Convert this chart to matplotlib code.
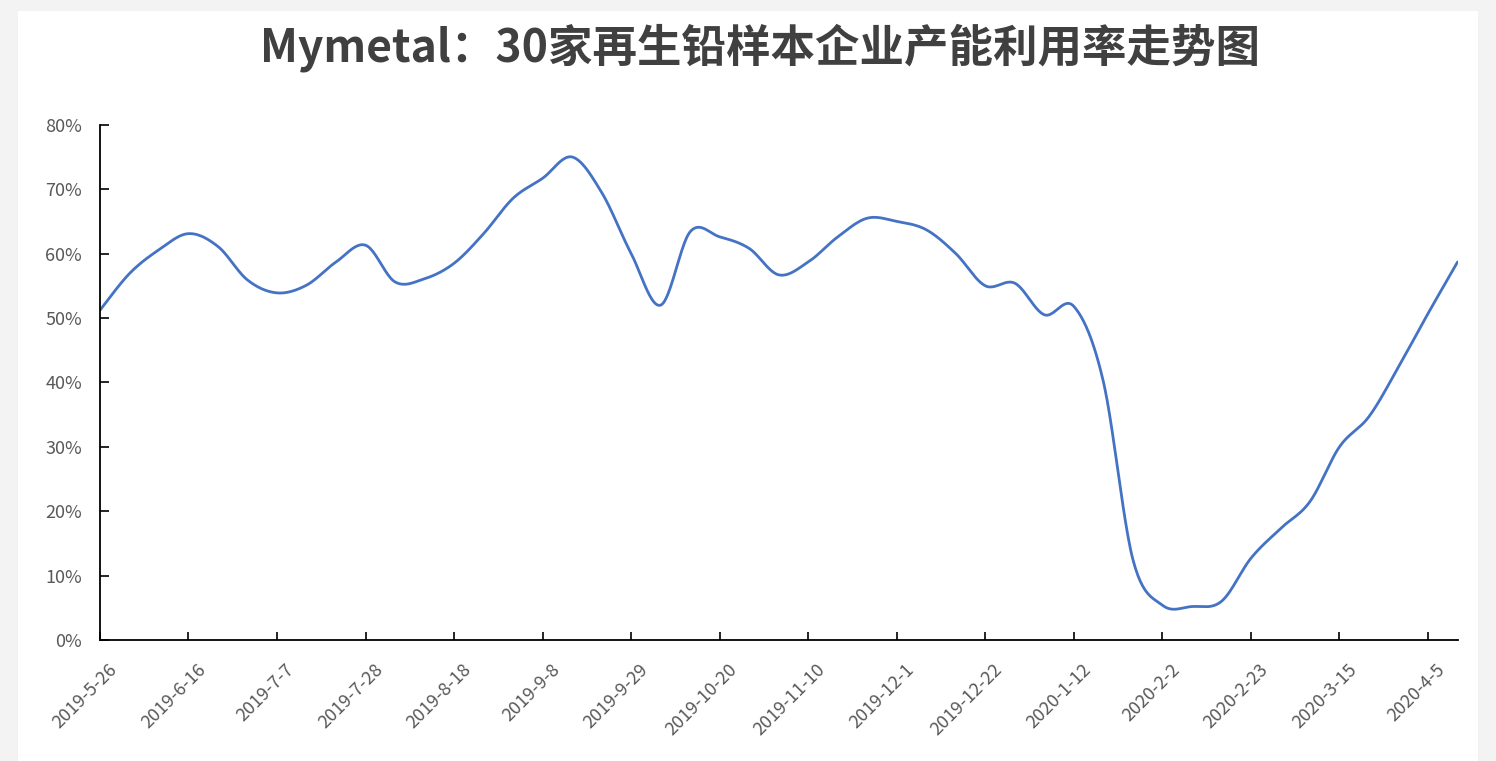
import numpy as np
import matplotlib
matplotlib.use("Agg")
import matplotlib.pyplot as plt
import matplotlib.transforms as mtransforms
from matplotlib.ticker import PercentFormatter

plt.rcParams['font.family'] = ['Noto Sans CJK SC', 'DejaVu Sans']

# 周度数据：2019-5-26 ~ 2020-4-12
titulo = "Mymetal：30家再生铅样本企业产能利用率走势图"
taxa_utilizacao = [
    51.2, 56.9, 60.6, 63.1, 61.1, 55.9, 53.9, 55.1, 58.7, 61.3,
    55.6, 56.1, 58.5, 63.1, 68.6, 71.7, 75.0, 69.5, 60.0, 52.0,
    63.4, 62.6, 60.8, 56.7, 58.7, 62.6, 65.5, 65.0, 63.7, 60.0,
    55.0, 55.4, 50.5, 51.8, 40.1, 12.5, 5.4, 5.2, 6.0, 12.7,
    17.3, 21.5, 30.0, 34.7, 42.4, 50.7, 58.7,
]
rotulos_x = [
    "2019-5-26", "2019-6-16", "2019-7-7", "2019-7-28", "2019-8-18",
    "2019-9-8", "2019-9-29", "2019-10-20", "2019-11-10", "2019-12-1",
    "2019-12-22", "2020-1-12", "2020-2-2", "2020-2-23", "2020-3-15",
    "2020-4-5",
]
passo_rotulo = 3  # um rótulo a cada 3 semanas


# Curva suavizada estilo Excel (Bezier com tangentes de Catmull-Rom)
def suavizar(x, y, n=24):
    x = np.asarray(x, float)
    y = np.asarray(y, float)
    xs, ys = [], []
    for i in range(len(x) - 1):
        i0 = max(i - 1, 0)
        i3 = min(i + 2, len(x) - 1)
        c1x = x[i] + (x[i + 1] - x[i0]) / 6
        c1y = y[i] + (y[i + 1] - y[i0]) / 6
        c2x = x[i + 1] - (x[i3] - x[i]) / 6
        c2y = y[i + 1] - (y[i3] - y[i]) / 6
        t = np.linspace(0, 1, n, endpoint=False)
        a, b, c, d = (1 - t) ** 3, 3 * t * (1 - t) ** 2, 3 * t ** 2 * (1 - t), t ** 3
        xs.append(a * x[i] + b * c1x + c * c2x + d * x[i + 1])
        ys.append(a * y[i] + b * c1y + c * c2y + d * y[i + 1])
    xs.append([x[-1]])
    ys.append([y[-1]])
    return np.concatenate(xs), np.concatenate(ys)


semanas = np.arange(len(taxa_utilizacao))
xs, ys = suavizar(semanas, taxa_utilizacao)

fig = plt.figure(figsize=(14.96, 7.61), dpi=100)
fig.patch.set_facecolor('#f3f3f3')
fundo = plt.Rectangle((0.012, 0.0), 0.976, 0.985, transform=fig.transFigure,
                      facecolor='white', edgecolor='none', zorder=-10)
fig.add_artist(fundo)

ax = fig.add_axes([0.0668, 0.159, 0.9075, 0.677])
ax.set_facecolor('none')
ax.plot(xs, ys, color='#4472C4', linewidth=2.0, solid_capstyle='round')

ax.set_xlim(0, len(taxa_utilizacao) - 1)
ax.set_ylim(0, 80)
ax.yaxis.set_major_formatter(PercentFormatter(decimals=0))
ax.set_yticks(np.arange(0, 81, 10))
ax.set_xticks(np.arange(0, len(rotulos_x) * passo_rotulo, passo_rotulo))
ax.set_xticklabels(rotulos_x, rotation=45, ha='right', rotation_mode='anchor')

for lado in ['top', 'right']:
    ax.spines[lado].set_visible(False)
for lado in ['left', 'bottom']:
    ax.spines[lado].set_color('black')
    ax.spines[lado].set_linewidth(1.3)

ax.tick_params(axis='x', direction='in', length=6, width=1.2, pad=15,
               labelsize=13, labelcolor='#595959')
ax.tick_params(axis='y', direction='in', length=6.5, width=1.2, pad=13,
               labelsize=13, labelcolor='#595959')

# desloca os rótulos do eixo x um pouco para a direita
desloc = mtransforms.ScaledTranslation(8 / 100, 0, fig.dpi_scale_trans)
for rotulo in ax.get_xticklabels():
    rotulo.set_transform(rotulo.get_transform() + desloc)

fig.text(0.508, 0.937, titulo, ha='center', va='center', fontsize=32,
         fontweight='bold', color='#404040')

fig.savefig("out.png", dpi=100)
